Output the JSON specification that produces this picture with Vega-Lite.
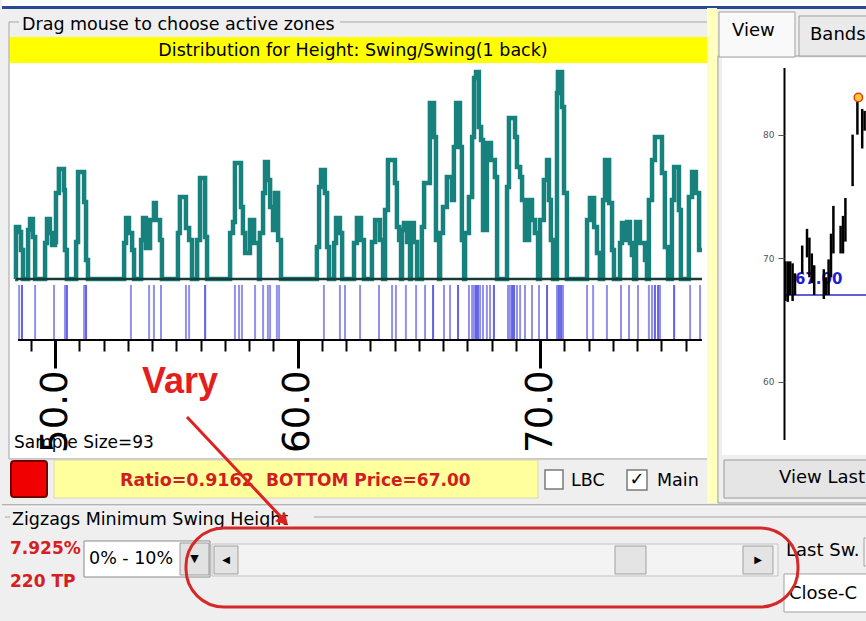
{
  "$schema": "https://vega.github.io/schema/vega-lite/v6.json",
  "padding": 0,
  "spacing": 0,
  "bounds": "flush",
  "background": "#EFEFEF",
  "config": {
    "view": {"stroke": null},
    "text": {"font": "DejaVu Sans", "fontSize": 17.5, "baseline": "middle", "align": "left", "color": "#000000"}
  },
  "hconcat": [
    {
      "width": 716,
      "height": 621,
      "data": {"values": [{"k": 1}]},
      "layer": [
        {"mark": {"type": "point", "opacity": 0},
         "encoding": {
           "x": {"datum": 50, "type": "quantitative",
                 "scale": {"domain": [47.8144, 77.3402], "nice": false, "zero": false},
                 "axis": {"orient": "bottom", "offset": -281, "title": null, "domain": false, "grid": false, "zindex": 1,
                          "values": [49,50,51,52,53,54,55,56,57,58,59,60,61,62,63,64,65,66,67,68,69,70,71,72,73,74,75,76],
                          "tickCount": 60,
                          "ticks": true, "labels": true, "tickSize": 28, "tickColor": "#000000",
                          "tickWidth": {"condition": {"test": "datum.value % 10 === 0", "value": 3}, "value": 2},
                          "tickDash": {"condition": {"test": "datum.value % 10 === 0", "value": []}, "value": [11, 40]},
                          "labelExpr": "datum.value % 10 === 0 ? datum.label : ''",
                          "labelAngle": 270, "labelFontSize": 37, "labelFont": "DejaVu Sans", "labelColor": "#000000",
                          "labelPadding": 2, "labelOverlap": false, "labelFlush": false}},
           "y": {"datum": 0, "type": "quantitative", "scale": {"domain": [-14.8696, 12.1304], "nice": false, "zero": false},
                 "axis": {"title": null, "labels": false, "ticks": false, "domain": false, "grid": false}}
         }},
        {"mark": {"type": "rect", "fill": "#FFFFFF"}, "encoding": {"x": {"datum": 47.8144}, "x2": {"datum": 83.5258}, "y": {"datum": 12.1304}, "y2": {"datum": 11.870}}},
        {"mark": {"type": "rule", "color": "#2C4A94", "strokeWidth": 3}, "encoding": {"x": {"datum": 47.8144}, "x2": {"datum": 83.5258}, "y": {"datum": 11.804}}},
        {"mark": {"type": "rect", "fill": "#FFFFFF"}, "encoding": {"x": {"datum": 48.144}, "x2": {"datum": 76.887}, "y": {"datum": 9.391}, "y2": {"datum": -7.783}}},
        {"mark": {"type": "rect", "fillOpacity": 0, "stroke": "#A6A6A6", "strokeWidth": 1}, "encoding": {"x": {"datum": 48.103}, "x2": {"datum": 76.928}, "y": {"datum": 11.174}, "y2": {"datum": -7.826}}},
        {"mark": {"type": "rect", "fill": "#FFFF00"}, "encoding": {"x": {"datum": 48.144}, "x2": {"datum": 76.887}, "y": {"datum": 10.522}, "y2": {"datum": 9.391}}},
        {"mark": {"type": "rect", "fill": "#EFEFEF"}, "encoding": {"x": {"datum": 48.515}, "x2": {"datum": 61.753}, "y": {"datum": 11.522}, "y2": {"datum": 10.739}}},
        {"mark": {"type": "text", "text": "Drag mouse to choose active zones"}, "encoding": {"x": {"datum": 48.639}, "y": {"datum": 11.043}}},
        {"mark": {"type": "text", "text": "Distribution for Height: Swing/Swing(1 back)", "align": "center"}, "encoding": {"x": {"datum": 62.289}, "y": {"datum": 9.913}}},
        {"mark": {"type": "rect", "fill": "#FFFFBE"}, "encoding": {"x": {"datum": 76.887}, "x2": {"datum": 77.299}, "y": {"datum": 11.783}, "y2": {"datum": -9.739}}},
        {"mark": {"type": "rect", "fill": "#EFEFEF", "stroke": "#A0A0A0", "strokeWidth": 1}, "encoding": {"x": {"datum": 77.340}, "x2": {"datum": 83.691}, "y": {"datum": 9.696}, "y2": {"datum": -9.739}}},
        {"mark": {"type": "rect", "fill": "#FFFFFF"}, "encoding": {"x": {"datum": 77.505}, "x2": {"datum": 83.691}, "y": {"datum": 9.609}, "y2": {"datum": -7.652}}},
        {"mark": {"type": "rect", "fill": "#F9F9F9", "stroke": "#A0A0A0", "strokeWidth": 1}, "encoding": {"x": {"datum": 77.381}, "x2": {"datum": 80.515}, "y": {"datum": 11.609}, "y2": {"datum": 9.652}}},
        {"mark": {"type": "rect", "fill": "#EAEAEA", "stroke": "#A0A0A0", "strokeWidth": 1}, "encoding": {"x": {"datum": 80.680}, "x2": {"datum": 83.691}, "y": {"datum": 11.435}, "y2": {"datum": 9.696}}},
        {"mark": {"type": "text", "text": "View", "fontSize": 18}, "encoding": {"x": {"datum": 77.918}, "y": {"datum": 10.783}}},
        {"mark": {"type": "text", "text": "Bands", "fontSize": 18}, "encoding": {"x": {"datum": 81.134}, "y": {"datum": 10.609}}},
        {"mark": {"type": "rect", "fill": "#E5E5E5", "stroke": "#9A9A9A", "strokeWidth": 1}, "encoding": {"x": {"datum": 77.588}, "x2": {"datum": 83.691}, "y": {"datum": -7.870}, "y2": {"datum": -9.522}}},
        {"mark": {"type": "text", "text": "View Last", "fontSize": 18}, "encoding": {"x": {"datum": 79.856}, "y": {"datum": -8.652}}},
        {"mark": {"type": "rect", "fill": "#F00000", "stroke": "#700000", "strokeWidth": 2, "cornerRadius": 3}, "encoding": {"x": {"datum": 48.186}, "x2": {"datum": 49.670}, "y": {"datum": -7.913}, "y2": {"datum": -9.478}}},
        {"mark": {"type": "rect", "fill": "#FFFF9E", "stroke": "#D8D8B0", "strokeWidth": 1}, "encoding": {"x": {"datum": 49.959}, "x2": {"datum": 69.918}, "y": {"datum": -7.870}, "y2": {"datum": -9.522}}},
        {"mark": {"type": "text", "text": "Ratio=0.9162", "fontWeight": "bold", "fontSize": 17.5, "color": "#D01E1E"}, "encoding": {"x": {"datum": 52.680}, "y": {"datum": -8.783}}},
        {"mark": {"type": "text", "text": "BOTTOM Price=67.00", "fontWeight": "bold", "fontSize": 17, "color": "#D01E1E"}, "encoding": {"x": {"datum": 58.701}, "y": {"datum": -8.783}}},
        {"mark": {"type": "rect", "fill": "#FFFFFF", "stroke": "#7A7A7A", "strokeWidth": 1.5}, "encoding": {"x": {"datum": 70.206}, "x2": {"datum": 70.949}, "y": {"datum": -8.304}, "y2": {"datum": -9.130}}},
        {"mark": {"type": "text", "text": "LBC"}, "encoding": {"x": {"datum": 71.279}, "y": {"datum": -8.783}}},
        {"mark": {"type": "rect", "fill": "#FFFFFF", "stroke": "#7A7A7A", "strokeWidth": 1.5}, "encoding": {"x": {"datum": 73.588}, "x2": {"datum": 74.412}, "y": {"datum": -8.304}, "y2": {"datum": -9.174}}},
        {"mark": {"type": "text", "text": "✓", "align": "center", "fontWeight": "bold", "fontSize": 18}, "encoding": {"x": {"datum": 74.000}, "y": {"datum": -8.739}}},
        {"mark": {"type": "text", "text": "Main"}, "encoding": {"x": {"datum": 74.825}, "y": {"datum": -8.783}}},
        {"mark": {"type": "rule", "color": "#A0A0A0", "strokeWidth": 1.5}, "encoding": {"x": {"datum": 47.8144}, "x2": {"datum": 83.5258}, "y": {"datum": -9.826}}},
        {"mark": {"type": "rule", "color": "#FFFFFF", "strokeWidth": 1}, "encoding": {"x": {"datum": 47.8144}, "x2": {"datum": 83.5258}, "y": {"datum": -9.870}}},
        {"mark": {"type": "rule", "color": "#A6A6A6", "strokeWidth": 1}, "encoding": {"x": {"datum": 47.938}, "x2": {"datum": 83.5258}, "y": {"datum": -10.348}}},
        {"mark": {"type": "rect", "fill": "#EFEFEF"}, "encoding": {"x": {"datum": 48.144}, "x2": {"datum": 60.680}, "y": {"datum": -10.000}, "y2": {"datum": -10.783}}},
        {"mark": {"type": "text", "text": "Zigzags Minimum Swing Height"}, "encoding": {"x": {"datum": 48.227}, "y": {"datum": -10.478}}},
        {"mark": {"type": "text", "text": "7.925%", "fontWeight": "bold", "fontSize": 17, "color": "#D42020"}, "encoding": {"x": {"datum": 48.144}, "y": {"datum": -11.739}}},
        {"mark": {"type": "text", "text": "220 TP", "fontWeight": "bold", "fontSize": 17, "color": "#D42020"}, "encoding": {"x": {"datum": 48.144}, "y": {"datum": -13.174}}},
        {"mark": {"type": "rect", "fill": "#FFFFFF", "stroke": "#8A8A8A", "strokeWidth": 1}, "encoding": {"x": {"datum": 51.196}, "x2": {"datum": 56.392}, "y": {"datum": -11.391}, "y2": {"datum": -12.957}}},
        {"mark": {"type": "text", "text": "0% - 10%"}, "encoding": {"x": {"datum": 51.402}, "y": {"datum": -12.174}}},
        {"mark": {"type": "rect", "fill": "#E2E2E2", "stroke": "#9A9A9A", "strokeWidth": 1}, "encoding": {"x": {"datum": 55.155}, "x2": {"datum": 56.351}, "y": {"datum": -11.478}, "y2": {"datum": -12.870}}},
        {"mark": {"type": "text", "text": "▼", "align": "center", "fontSize": 11}, "encoding": {"x": {"datum": 55.753}, "y": {"datum": -12.174}}},
        {"mark": {"type": "rect", "fill": "#F3F3F3", "stroke": "#C4C4C4", "strokeWidth": 1}, "encoding": {"x": {"datum": 56.474}, "x2": {"datum": 79.814}, "y": {"datum": -11.522}, "y2": {"datum": -12.913}}},
        {"mark": {"type": "rect", "fill": "#E4E4E4", "stroke": "#A0A0A0", "strokeWidth": 1}, "encoding": {"x": {"datum": 56.557}, "x2": {"datum": 57.546}, "y": {"datum": -11.609}, "y2": {"datum": -12.826}}},
        {"mark": {"type": "text", "text": "◀", "align": "center", "fontSize": 10}, "encoding": {"x": {"datum": 57.052}, "y": {"datum": -12.217}}},
        {"mark": {"type": "rect", "fill": "#E4E4E4", "stroke": "#A0A0A0", "strokeWidth": 1}, "encoding": {"x": {"datum": 73.093}, "x2": {"datum": 74.371}, "y": {"datum": -11.609}, "y2": {"datum": -12.826}}},
        {"mark": {"type": "rect", "fill": "#E4E4E4", "stroke": "#A0A0A0", "strokeWidth": 1}, "encoding": {"x": {"datum": 78.371}, "x2": {"datum": 79.608}, "y": {"datum": -11.609}, "y2": {"datum": -12.826}}},
        {"mark": {"type": "text", "text": "▶", "align": "center", "fontSize": 10}, "encoding": {"x": {"datum": 78.990}, "y": {"datum": -12.217}}},
        {"mark": {"type": "text", "text": "Last Sw.", "fontSize": 18}, "encoding": {"x": {"datum": 80.144}, "y": {"datum": -11.826}}},
        {"mark": {"type": "rect", "fill": "#F4F4F4", "stroke": "#A0A0A0", "strokeWidth": 1}, "encoding": {"x": {"datum": 83.361}, "x2": {"datum": 83.691}, "y": {"datum": -11.261}, "y2": {"datum": -12.478}}},
        {"mark": {"type": "rect", "fill": "#FFFFFF", "stroke": "#A0A0A0", "strokeWidth": 1}, "encoding": {"x": {"datum": 80.062}, "x2": {"datum": 83.691}, "y": {"datum": -12.826}, "y2": {"datum": -14.478}}},
        {"mark": {"type": "text", "text": "Close-C", "fontSize": 18}, "encoding": {"x": {"datum": 80.268}, "y": {"datum": -13.696}}},
        {
          "data": {"values": [
            {"v":48.35,"c":0},{"v":48.39,"c":2.26},{"v":48.52,"c":2.04},{"v":48.60,"c":1.26},{"v":48.68,"c":0},
            {"v":48.89,"c":2.13},{"v":48.97,"c":2.61},{"v":49.09,"c":1.83},{"v":49.18,"c":0},
            {"v":49.59,"c":1.57},{"v":49.67,"c":2.61},{"v":49.79,"c":2.00},{"v":49.88,"c":1.48},{"v":50.00,"c":1.61},{"v":50.04,"c":3.74},{"v":50.16,"c":4.78},{"v":50.37,"c":3.87},{"v":50.41,"c":1.26},{"v":50.49,"c":0},
            {"v":50.87,"c":1.61},{"v":50.95,"c":4.65},{"v":51.20,"c":3.35},{"v":51.28,"c":0.83},{"v":51.36,"c":0},
            {"v":52.85,"c":1.57},{"v":52.93,"c":2.65},{"v":53.05,"c":2.00},{"v":53.18,"c":1.26},{"v":53.26,"c":0},
            {"v":53.55,"c":1.70},{"v":53.63,"c":2.65},{"v":53.75,"c":1.35},{"v":53.92,"c":2.57},{"v":54.08,"c":3.30},{"v":54.16,"c":2.57},{"v":54.33,"c":1.70},{"v":54.41,"c":0},
            {"v":55.07,"c":2.00},{"v":55.15,"c":3.57},{"v":55.40,"c":2.22},{"v":55.53,"c":1.70},{"v":55.65,"c":0},
            {"v":55.86,"c":1.70},{"v":55.98,"c":4.39},{"v":56.19,"c":1.83},{"v":56.27,"c":0},
            {"v":57.22,"c":2.00},{"v":57.34,"c":2.48},{"v":57.42,"c":5.04},{"v":57.67,"c":3.13},{"v":57.75,"c":2.00},{"v":57.84,"c":1.13},{"v":58.04,"c":2.57},{"v":58.21,"c":1.57},{"v":58.41,"c":0},
            {"v":58.45,"c":2.00},{"v":58.58,"c":3.74},{"v":58.66,"c":5.09},{"v":58.78,"c":4.30},{"v":58.87,"c":3.13},{"v":58.99,"c":2.13},{"v":59.07,"c":3.74},{"v":59.20,"c":1.70},{"v":59.32,"c":0},
            {"v":60.80,"c":1.39},{"v":60.89,"c":4.00},{"v":60.97,"c":4.74},{"v":61.13,"c":3.74},{"v":61.22,"c":1.39},{"v":61.30,"c":0},
            {"v":61.51,"c":1.57},{"v":61.59,"c":2.65},{"v":61.75,"c":2.00},{"v":61.84,"c":0},
            {"v":62.33,"c":1.57},{"v":62.45,"c":2.65},{"v":62.62,"c":1.70},{"v":62.74,"c":0},
            {"v":63.07,"c":1.61},{"v":63.20,"c":2.57},{"v":63.40,"c":1.70},{"v":63.53,"c":0},
            {"v":63.61,"c":3.00},{"v":63.73,"c":5.17},{"v":64.02,"c":4.17},{"v":64.10,"c":2.26},{"v":64.19,"c":1.70},{"v":64.27,"c":0},
            {"v":64.31,"c":2.13},{"v":64.39,"c":2.43},{"v":64.52,"c":1.61},{"v":64.64,"c":0},
            {"v":64.68,"c":2.43},{"v":64.80,"c":1.61},{"v":64.93,"c":0},
            {"v":65.13,"c":2.26},{"v":65.22,"c":4.17},{"v":65.46,"c":7.65},{"v":65.63,"c":6.17},{"v":65.71,"c":1.70},{"v":65.84,"c":0},
            {"v":65.88,"c":2.00},{"v":66.00,"c":3.13},{"v":66.16,"c":4.43},{"v":66.37,"c":3.43},{"v":66.45,"c":5.74},{"v":66.54,"c":7.65},{"v":66.70,"c":5.74},{"v":66.78,"c":1.70},{"v":66.87,"c":0},
            {"v":66.91,"c":2.00},{"v":67.07,"c":3.57},{"v":67.20,"c":6.17},{"v":67.28,"c":8.74},{"v":67.36,"c":9.00},{"v":67.48,"c":6.61},{"v":67.57,"c":6.04},{"v":67.65,"c":2.13},{"v":67.81,"c":5.91},{"v":67.98,"c":5.17},{"v":68.14,"c":4.43},{"v":68.23,"c":0},
            {"v":68.64,"c":4.00},{"v":68.72,"c":7.00},{"v":68.97,"c":6.17},{"v":69.05,"c":4.87},{"v":69.18,"c":4.43},{"v":69.26,"c":3.43},{"v":69.38,"c":1.70},{"v":69.55,"c":3.43},{"v":69.67,"c":2.57},{"v":69.79,"c":2.00},{"v":69.92,"c":0},
            {"v":70.00,"c":2.57},{"v":70.16,"c":4.30},{"v":70.29,"c":5.17},{"v":70.37,"c":3.43},{"v":70.45,"c":1.70},{"v":70.54,"c":0},
            {"v":70.70,"c":8.09},{"v":70.74,"c":9.00},{"v":70.91,"c":7.48},{"v":70.99,"c":3.74},{"v":71.11,"c":0},
            {"v":71.94,"c":2.57},{"v":72.06,"c":3.52},{"v":72.23,"c":2.26},{"v":72.35,"c":1.13},{"v":72.47,"c":0},
            {"v":72.60,"c":3.43},{"v":72.68,"c":5.17},{"v":72.85,"c":3.30},{"v":72.97,"c":1.26},{"v":73.05,"c":0},
            {"v":73.30,"c":1.57},{"v":73.38,"c":2.43},{"v":73.51,"c":1.70},{"v":73.59,"c":2.48},{"v":73.71,"c":1.57},{"v":73.79,"c":1.04},{"v":73.88,"c":0},
            {"v":73.96,"c":2.48},{"v":74.12,"c":1.57},{"v":74.33,"c":0.83},{"v":74.41,"c":0},
            {"v":74.49,"c":3.43},{"v":74.62,"c":5.17},{"v":74.74,"c":6.17},{"v":75.03,"c":4.61},{"v":75.15,"c":1.39},{"v":75.28,"c":0},
            {"v":75.44,"c":3.43},{"v":75.53,"c":4.87},{"v":75.73,"c":3.00},{"v":75.81,"c":0},
            {"v":76.14,"c":3.57},{"v":76.27,"c":4.65},{"v":76.43,"c":3.74},{"v":76.56,"c":1.26},{"v":76.68,"c":1.26}
          ]},
          "mark": {"type": "line", "interpolate": "step-after", "color": "#17827D", "strokeWidth": 4.5},
          "encoding": {
            "x": {"field": "v", "type": "quantitative"},
            "y": {"field": "c", "type": "quantitative"}
          }
        },
        {"mark": {"type": "rule", "color": "#163C38", "strokeWidth": 2.5}, "encoding": {"x": {"datum": 48.392}, "x2": {"datum": 76.680}, "y": {"datum": 0}}},
        {
          "data": {"values": [
            {"v":48.52},{"v":48.64},{"v":48.64},{"v":49.18},{"v":49.96},{"v":50.41},{"v":50.49},{"v":50.49},{"v":51.20},{"v":51.28},
            {"v":51.28},{"v":53.13},{"v":53.88},{"v":54.08},{"v":54.37},{"v":55.40},{"v":55.53},{"v":56.19},{"v":56.19},{"v":57.42},
            {"v":57.59},{"v":57.71},{"v":58.25},{"v":58.58},{"v":58.78},{"v":58.87},{"v":59.15},{"v":59.24},{"v":61.09},{"v":61.75},
            {"v":61.96},{"v":62.58},{"v":63.36},{"v":63.90},{"v":64.06},{"v":64.47},{"v":64.89},{"v":65.26},{"v":65.59},{"v":65.59},
            {"v":66.04},{"v":66.29},{"v":66.62},{"v":66.62},{"v":67.07},{"v":67.20},{"v":67.28},{"v":67.36},{"v":67.36},{"v":67.44},
            {"v":67.44},{"v":67.53},{"v":67.65},{"v":67.81},{"v":67.94},{"v":68.10},{"v":68.10},{"v":68.68},{"v":68.76},{"v":68.85},
            {"v":68.85},{"v":68.93},{"v":68.93},{"v":69.05},{"v":69.18},{"v":69.38},{"v":69.67},{"v":69.96},{"v":70.29},{"v":70.29},
            {"v":70.70},{"v":70.78},{"v":70.78},{"v":70.87},{"v":70.87},{"v":70.95},{"v":71.94},{"v":72.19},{"v":72.76},{"v":73.34},
            {"v":73.67},{"v":74.04},{"v":74.49},{"v":74.62},{"v":74.74},{"v":74.74},{"v":74.87},{"v":74.87},{"v":74.95},{"v":75.53},
            {"v":75.53},{"v":76.19},{"v":76.60}
          ]},
          "mark": {"type": "rule", "color": "#4848E0", "strokeWidth": 2, "opacity": 0.6},
          "encoding": {"x": {"field": "v", "type": "quantitative"}, "y": {"datum": -0.261}, "y2": {"datum": -2.609}}
        },
        {"mark": {"type": "rule", "color": "#000000", "strokeWidth": 2}, "encoding": {"x": {"datum": 48.474}, "x2": {"datum": 76.680}, "y": {"datum": -2.652}}},
        {"mark": {"type": "text", "text": "Sample Size=93", "fontSize": 17}, "encoding": {"x": {"datum": 48.309}, "y": {"datum": -7.130}}},
        {"mark": {"type": "text", "text": "Vary", "font": "Liberation Sans", "fontWeight": "bold", "fontSize": 36, "color": "#E41E1E"}, "encoding": {"x": {"datum": 53.588}, "y": {"datum": -4.478}}},
        {"mark": {"type": "rule", "color": "#E02020", "strokeWidth": 3}, "encoding": {"x": {"datum": 55.443}, "x2": {"datum": 59.361}, "y": {"datum": -6.000}, "y2": {"datum": -10.391}}},
        {"mark": {"type": "point", "shape": "triangle-down", "size": 180, "angle": 317, "filled": true, "color": "#E02020", "opacity": 1}, "encoding": {"x": {"datum": 59.443}, "y": {"datum": -10.522}}},
        {"mark": {"type": "rect", "fillOpacity": 0, "stroke": "#D62828", "strokeWidth": 3, "cornerRadius": 38}, "encoding": {"x": {"datum": 55.402}, "x2": {"datum": 80.639}, "y": {"datum": -10.826}, "y2": {"datum": -14.261}}}
      ]
    },
    {
      "width": 150,
      "height": 621,
      "data": {"values": [{"k": 1}]},
      "layer": [
        {"mark": {"type": "point", "opacity": 0},
         "encoding": {
           "x": {"datum": 0, "type": "quantitative", "scale": {"domain": [-27.083, 35.417], "nice": false, "zero": false},
                 "axis": {"title": null, "labels": false, "ticks": false, "domain": false, "grid": false}},
           "y": {"datum": 70, "type": "quantitative", "scale": {"domain": [40.61, 90.89], "nice": false, "zero": false},
                 "axis": {"orient": "left", "offset": -66, "values": [60, 70, 80], "ticks": true, "labels": true, "tickSize": 6, "tickColor": "#555555", "tickWidth": 1, "zindex": 1,
                          "labelFontSize": 9, "labelFont": "DejaVu Sans", "labelColor": "#555555", "labelPadding": 4, "domain": false, "grid": false, "title": null}}
         }},
        {"mark": {"type": "rule", "color": "#2B2BC8", "strokeWidth": 1.5}, "encoding": {"x": {"datum": 0.42}, "x2": {"datum": 35.42}, "y": {"datum": 67}}},
        {"mark": {"type": "text", "text": "67.00", "fontWeight": "bold", "fontSize": 15, "color": "#1F1FD0"}, "encoding": {"x": {"datum": 5.0}, "y": {"datum": 68.3}}},
        {"mark": {"type": "rule", "color": "#000000", "strokeWidth": 2}, "encoding": {"x": {"datum": 0.625}, "y": {"datum": 55.26}, "y2": {"datum": 85.38}}},
        {
          "data": {"values": [
            {"d":1,"lo":66.52,"hi":69.73},{"d":2,"lo":66.45,"hi":69.73},{"d":3,"lo":67.00,"hi":69.73},{"d":4,"lo":66.52,"hi":69.57},
            {"d":5,"lo":67.00,"hi":68.76},{"d":8,"lo":68.76,"hi":71.01},{"d":10,"lo":70.05,"hi":72.36},{"d":11,"lo":68.44,"hi":71.65},
            {"d":12,"lo":67.96,"hi":70.37},{"d":13,"lo":67.00,"hi":69.41},{"d":17,"lo":66.68,"hi":69.09},{"d":18,"lo":67.00,"hi":68.44},
            {"d":19,"lo":67.00,"hi":69.89},{"d":20,"lo":68.44,"hi":71.97},{"d":21,"lo":70.37,"hi":74.22},{"d":24,"lo":70.37,"hi":72.61},
            {"d":25,"lo":70.37,"hi":73.41},{"d":26,"lo":71.33,"hi":74.86},{"d":29,"lo":75.82,"hi":79.99},{"d":31,"lo":79.99,"hi":82.71},
            {"d":33,"lo":78.87,"hi":82.07},{"d":34,"lo":80.31,"hi":81.91}
          ]},
          "mark": {"type": "rule", "color": "#000000", "strokeWidth": 2.5},
          "encoding": {
            "x": {"field": "d", "type": "quantitative"},
            "y": {"field": "lo", "type": "quantitative"},
            "y2": {"field": "hi"}
          }
        },
        {
          "data": {"values": [{"d":31.4,"p":83.0}]},
          "mark": {"type": "point", "shape": "circle", "size": 70, "filled": true, "fill": "#FFCC33", "stroke": "#E04010", "strokeWidth": 1.5, "opacity": 1},
          "encoding": {"x": {"field": "d", "type": "quantitative"}, "y": {"field": "p", "type": "quantitative"}}
        }
      ]
    }
  ]
}
